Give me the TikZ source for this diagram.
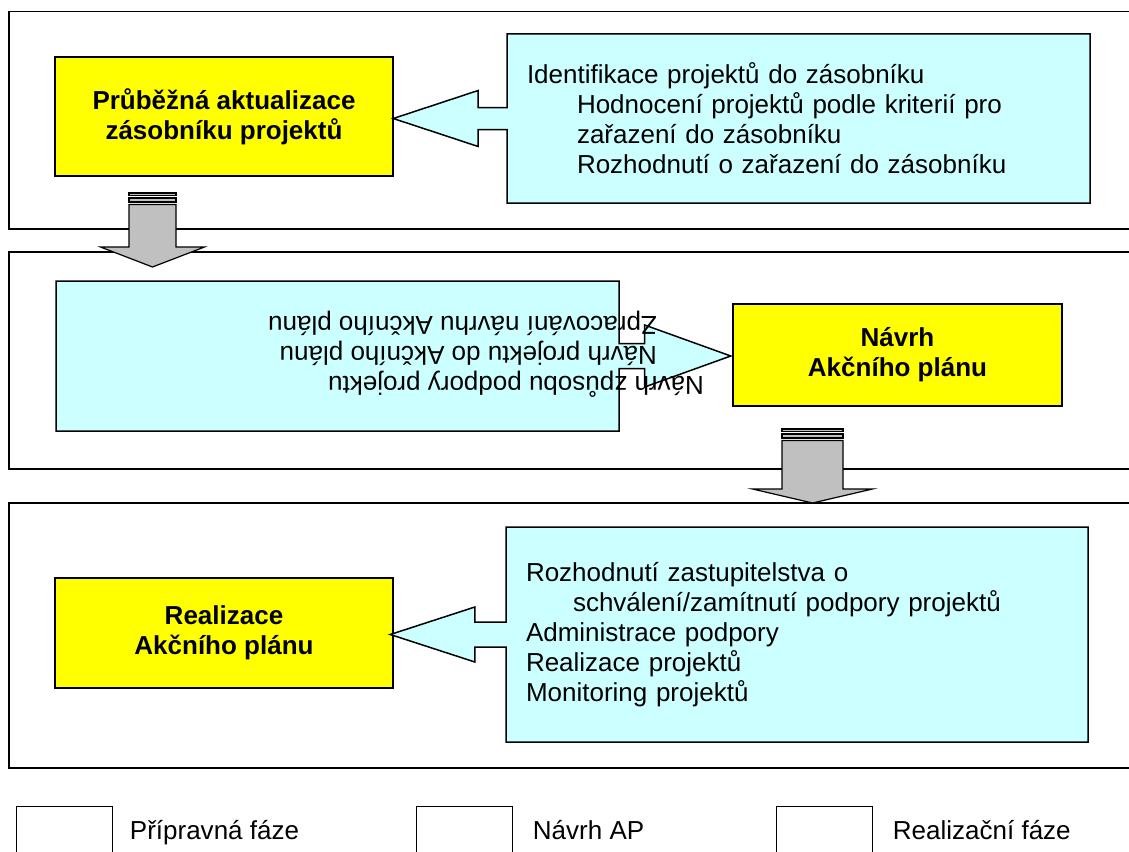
\documentclass[tikz,border=0pt]{standalone}
\usepackage{fontspec}
\setmainfont{Liberation Sans}
\usepackage{xcolor}
\usetikzlibrary{positioning,shapes.arrows}

\definecolor{zluta}{HTML}{FFFF00}
\definecolor{azur}{HTML}{CCFFFF}
\definecolor{seda}{HTML}{C0C0C0}

\begin{document}
\begin{tikzpicture}[x=1pt, y=-1pt, line width=1.5pt,
    faze/.style={rectangle, draw, fill=white, inner sep=0pt, anchor=north west},
    zlutybox/.style={rectangle, draw, fill=zluta, inner sep=0pt, align=center, font=\fontsize{26pt}{30pt}\selectfont\bfseries},
    popis/.style={arrow box, draw, fill=azur, inner xsep=20pt, inner ysep=0pt, align=left, font=\fontsize{26pt}{30pt}\selectfont},
    sipka/.style={draw, fill=seda, line width=1.2pt},
    legenda/.style={rectangle, draw, fill=white, minimum width=96pt, minimum height=52pt, inner sep=0pt, line width=1.2pt},
    legtext/.style={inner sep=0pt, font=\fontsize{26pt}{30pt}\selectfont},
    legpopis/.style={legtext, text height=20pt, text depth=6pt}]
    \path[fill=white, use as bounding box] (0,0) rectangle (1129,851);

    % fáze
    \node[faze, minimum width=1140pt, minimum height=217pt] (pripr) at (8,11) {};
    \node[faze, minimum width=1140pt, minimum height=217pt] (navrhap) at (8,251) {};
    \node[faze, minimum width=1140pt, minimum height=265pt] (realfaze) at (8,502) {};

    % šipky mezi fázemi
    \coordinate (s1) at (152.5,193);
    \draw[sipka] ([shift={(-23.5,0)}]s1) rectangle ([shift={(23.5,2.5)}]s1);
    \draw[sipka] ([shift={(-23.5,5)}]s1) rectangle ([shift={(23.5,9)}]s1);
    \draw[sipka] ([shift={(-23.5,11.5)}]s1) -- ([shift={(23.5,11.5)}]s1) -- ([shift={(23.5,54)}]s1)
        -- ([shift={(52,54)}]s1) -- ([shift={(0,74)}]s1) -- ([shift={(-52,54)}]s1) -- ([shift={(-23.5,54)}]s1) -- cycle;
    \coordinate (s2) at (812.5,429);
    \draw[sipka] ([shift={(-30.5,0)}]s2) rectangle ([shift={(30.5,2.5)}]s2);
    \draw[sipka] ([shift={(-30.5,5)}]s2) rectangle ([shift={(30.5,9)}]s2);
    \draw[sipka] ([shift={(-30.5,11.5)}]s2) -- ([shift={(30.5,11.5)}]s2) -- ([shift={(30.5,60)}]s2)
        -- ([shift={(60,60)}]s2) -- ([shift={(0,74)}]s2) -- ([shift={(-60,60)}]s2) -- ([shift={(-30.5,60)}]s2) -- cycle;

    % hlavní kroky
    \node[zlutybox, minimum width=338pt, minimum height=119pt] (aktual) at (224,116.5) {Průběžná aktualizace\\zásobníku projektů};
    \node[zlutybox, minimum width=329pt, minimum height=102pt] (navrh) at (897.5,355) {Návrh\\Akčního plánu};
    \node[zlutybox, minimum width=338pt, minimum height=110pt] (realiz) at (224,633) {Realizace\\Akčního plánu};

    % popisy činností
    \node[popis, minimum width=583pt, minimum height=169pt, text width=543pt,
          arrow box arrows={west:113pt}, arrow box shaft width=22pt, arrow box head extend=17pt, arrow box tip angle=36.5]
          (identif) at (798.5,118.5) {Identifikace projektů do zásobníku\\
          \hspace*{50pt}Hodnocení projektů podle kriterií pro\\
          \hspace*{50pt}zařazení do zásobníku\\
          \hspace*{50pt}Rozhodnutí o zařazení do zásobníku};
    \node[popis, minimum width=563pt, minimum height=150pt,
          arrow box arrows={east:111pt}, arrow box shaft width=25pt, arrow box head extend=18.5pt, arrow box tip angle=39.6]
          (zprac) at (337.5,356) {};
    \node[legtext, rotate=180, align=left] (zpractext) at (486,354) {Návrh způsobu podpory projektu\\
          \hspace*{47pt}Návrh projektu do Akčního plánu\\
          \hspace*{47pt}Zpracování návrhu Akčního plánu};
    \node[popis, minimum width=582pt, minimum height=215pt, text width=542pt,
          arrow box arrows={west:115pt}, arrow box shaft width=25pt, arrow box head extend=15pt, arrow box tip angle=36]
          (rozhod) at (797,634.5) {Rozhodnutí zastupitelstva o\\
          \hspace*{47pt}schválení/zamítnutí podpory projektů\\
          Administrace podpory\\
          Realizace projektů\\
          Monitoring projektů};

    % legenda
    \node[legenda, anchor=north west] (leg1) at (16,806) {};
    \node[legpopis, right=16pt of leg1] (leg1text) {Přípravná fáze};
    \node[legenda, anchor=north west] (leg2) at (416,806) {};
    \node[legpopis, right=19pt of leg2] (leg2text) {Návrh AP};
    \node[legenda, anchor=north west] (leg3) at (776,806) {};
    \node[legpopis, right=19pt of leg3] (leg3text) {Realizační fáze};
\end{tikzpicture}
\end{document}
